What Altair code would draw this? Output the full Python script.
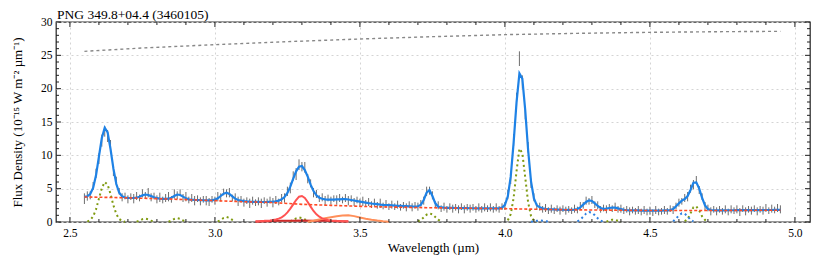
import altair as alt
import numpy as np
import pandas as pd

TITLE = "PNG 349.8+04.4 (3460105)"
X_TITLE = "Wavelength (µm)"
Y_TITLE = "Flux Density (10⁻¹⁵ W m⁻² µm⁻¹)"

x_ticks = [2.5, 3.0, 3.5, 4.0, 4.5, 5.0]
y_ticks = [0, 5, 10, 15, 20, 25, 30]
x_minor = [2.6, 2.7, 2.8, 2.9, 3.1, 3.2, 3.3, 3.4, 3.6, 3.7, 3.8, 3.9,
           4.1, 4.2, 4.3, 4.4, 4.6, 4.7, 4.8, 4.9]
y_minor = [1, 2, 3, 4, 6, 7, 8, 9, 11, 12, 13, 14, 16, 17, 18, 19,
           21, 22, 23, 24, 26, 27, 28, 29]

# wavelength grid of the spectrum (2.55 .. 4.95 um, 0.01 um)
wl = np.round(np.arange(2.55, 4.955, 0.01), 2)

fit_flux = [
    3.78, 3.85, 4.2, 5.1, 7.0, 9.8, 12.6, 14.15, 13.45, 10.95,
    8.0, 5.7, 4.4, 3.85, 3.68, 3.62, 3.6, 3.6, 3.65, 3.8,
    4.0, 4.12, 4.05, 3.88, 3.7, 3.57, 3.5, 3.47, 3.46, 3.5,
    3.65, 3.9, 4.12, 4.05, 3.8, 3.55, 3.4, 3.35, 3.32, 3.3,
    3.28, 3.26, 3.24, 3.23, 3.25, 3.35, 3.55, 3.9, 4.25, 4.4,
    4.2, 3.85, 3.5, 3.3, 3.2, 3.12, 3.08, 3.05, 3.03, 3.02,
    3.01, 3.0, 3.0, 3.01, 3.03, 3.05, 3.1, 3.2, 3.4, 3.75,
    4.35, 5.3, 6.5, 7.6, 8.3, 8.4, 7.8, 6.8, 5.6, 4.65,
    4.0, 3.65, 3.48, 3.4, 3.36, 3.35, 3.36, 3.38, 3.4, 3.42,
    3.42, 3.38, 3.3, 3.22, 3.13, 3.05, 2.97, 2.9, 2.83, 2.77,
    2.72, 2.67, 2.62, 2.58, 2.55, 2.52, 2.49, 2.46, 2.43, 2.41,
    2.39, 2.37, 2.35, 2.33, 2.32, 2.36, 2.57, 3.3, 4.4, 4.8,
    3.9, 2.8, 2.3, 2.18, 2.15, 2.13, 2.12, 2.11, 2.1, 2.09,
    2.08, 2.07, 2.07, 2.06, 2.06, 2.05, 2.05, 2.04, 2.04, 2.03,
    2.03, 2.03, 2.03, 2.04, 2.15, 2.58, 3.85, 6.8, 11.9, 17.9,
    22.3, 21.5, 16.8, 10.8, 6.1, 3.55, 2.5, 2.2, 2.05, 1.97,
    1.92, 1.9, 1.88, 1.86, 1.85, 1.84, 1.83, 1.83, 1.83, 1.85,
    1.95, 2.2, 2.6, 3.0, 3.25, 3.15, 2.8, 2.4, 2.1, 1.98,
    2.0, 2.1, 2.15, 2.15, 2.05, 1.92, 1.83, 1.78, 1.75, 1.74,
    1.73, 1.73, 1.72, 1.72, 1.72, 1.72, 1.72, 1.72, 1.72, 1.72,
    1.73, 1.74, 1.78, 1.95, 2.35, 2.8, 3.2, 3.45, 3.9, 4.8,
    5.9, 5.95, 5.0, 3.6, 2.5, 1.95, 1.8, 1.76, 1.75, 1.75,
    1.75, 1.75, 1.76, 1.76, 1.76, 1.77, 1.77, 1.77, 1.78, 1.78,
    1.78, 1.78, 1.79, 1.79, 1.79, 1.8, 1.8, 1.8, 1.81, 1.81, 1.82,
]

obs_flux = [
    3.5, 3.9, 4.0, 5.4, 7.3, 9.5, 12.2, 13.6, 12.9, 11.5,
    7.6, 6.2, 4.6, 3.7, 3.9, 3.4, 3.8, 3.5, 3.9, 3.6,
    4.3, 4.0, 4.4, 3.7, 3.9, 3.4, 3.7, 3.3, 3.6, 3.8,
    3.4, 4.2, 4.0, 4.4, 3.6, 3.8, 3.3, 3.6, 3.2, 3.5,
    3.1, 3.4, 3.2, 3.0, 3.4, 3.2, 3.8, 3.7, 4.5, 4.3,
    4.4, 3.6, 3.7, 3.1, 3.4, 2.9, 3.2, 2.8, 3.2, 2.9,
    3.1, 2.8, 3.2, 2.9, 3.3, 2.9, 3.3, 3.0, 3.6, 3.6,
    4.6, 5.1, 6.9, 7.2, 8.6, 8.3, 8.2, 6.5, 5.8, 4.4,
    4.2, 3.5, 3.7, 3.2, 3.6, 3.2, 3.5, 3.3, 3.6, 3.3,
    3.6, 3.2, 3.5, 3.0, 3.3, 2.9, 3.1, 2.8, 3.0, 2.6,
    2.9, 2.5, 2.8, 2.4, 2.7, 2.3, 2.6, 2.3, 2.6, 2.2,
    2.5, 2.2, 2.6, 2.2, 2.5, 2.3, 2.8, 3.2, 4.6, 4.7,
    4.0, 2.6, 2.5, 2.0, 2.3, 1.9, 2.3, 2.0, 2.2, 1.9,
    2.3, 1.9, 2.2, 2.0, 2.2, 1.9, 2.2, 1.9, 2.2, 2.0,
    2.2, 1.9, 2.2, 1.9, 2.3, 2.4, 4.1, 6.5, 12.3, 18.4,
    24.5, 21.0, 16.3, 11.2, 5.8, 3.7, 2.3, 2.3, 1.9, 2.1,
    1.7, 2.0, 1.7, 2.0, 1.7, 2.0, 1.7, 1.9, 1.7, 2.0,
    1.8, 2.4, 2.5, 3.2, 3.1, 3.3, 2.6, 2.5, 1.9, 2.1,
    1.9, 2.2, 2.0, 2.3, 1.9, 2.0, 1.7, 1.9, 1.6, 1.8,
    1.6, 1.8, 1.5, 1.8, 1.5, 1.7, 1.4, 1.8, 1.5, 1.6,
    1.8, 1.6, 2.0, 1.8, 2.4, 2.9, 3.1, 3.6, 3.8, 5.0,
    5.6, 6.3, 4.8, 3.8, 2.4, 2.1, 1.6, 1.9, 1.6, 1.9,
    1.6, 1.9, 1.5, 1.9, 1.7, 1.9, 1.5, 2.0, 1.6, 1.9,
    1.7, 2.0, 1.6, 1.9, 1.7, 2.1, 1.7, 2.0, 1.8, 2.1, 1.9,
]

obs_err = [
    0.8, 0.7, 0.6, 0.6, 0.7, 0.8, 0.9, 0.8, 0.9, 0.8,
    0.7, 0.6, 0.5, 0.6, 0.5, 0.6, 0.5, 0.7, 0.6, 0.5,
    0.6, 0.5, 0.7, 0.6, 0.5, 0.6, 0.7, 0.5, 0.6, 0.7,
    0.5, 0.7, 0.6, 0.5, 0.6, 0.7, 0.5, 0.6, 0.7, 0.5,
    0.6, 0.5, 0.7, 0.6, 0.5, 0.6, 0.7, 0.6, 0.5, 0.6,
    0.7, 0.5, 0.6, 0.7, 0.5, 0.6, 0.5, 0.7, 0.6, 0.5,
    0.6, 0.7, 0.5, 0.6, 0.5, 0.7, 0.6, 0.5, 0.6, 0.7,
    0.7, 0.8, 0.7, 0.9, 0.8, 0.7, 0.8, 0.7, 0.6, 0.7,
    0.6, 0.5, 0.6, 0.7, 0.5, 0.6, 0.5, 0.7, 0.6, 0.5,
    0.6, 0.7, 0.5, 0.6, 0.5, 0.6, 0.7, 0.5, 0.6, 0.5,
    0.6, 0.5, 0.7, 0.5, 0.6, 0.5, 0.6, 0.5, 0.6, 0.5,
    0.5, 0.6, 0.5, 0.6, 0.5, 0.6, 0.5, 0.6, 0.7, 0.6,
    0.6, 0.5, 0.6, 0.5, 0.6, 0.5, 0.5, 0.6, 0.5, 0.6,
    0.5, 0.6, 0.5, 0.6, 0.5, 0.5, 0.6, 0.5, 0.6, 0.5,
    0.6, 0.5, 0.6, 0.5, 0.5, 0.6, 0.7, 0.8, 0.9, 1.0,
    1.1, 1.0, 0.9, 0.8, 0.7, 0.6, 0.5, 0.6, 0.5, 0.6,
    0.5, 0.6, 0.5, 0.5, 0.6, 0.5, 0.6, 0.5, 0.5, 0.6,
    0.5, 0.6, 0.5, 0.6, 0.5, 0.6, 0.5, 0.6, 0.5, 0.5,
    0.6, 0.5, 0.5, 0.6, 0.5, 0.6, 0.5, 0.5, 0.6, 0.5,
    0.5, 0.6, 0.5, 0.6, 0.5, 0.6, 0.5, 0.6, 0.5, 0.5,
    0.6, 0.5, 0.5, 0.6, 0.5, 0.6, 0.5, 0.6, 0.7, 0.6,
    0.7, 0.6, 0.6, 0.5, 0.6, 0.5, 0.6, 0.5, 0.6, 0.5,
    0.5, 0.6, 0.5, 0.6, 0.5, 0.6, 0.6, 0.5, 0.6, 0.5,
    0.6, 0.5, 0.6, 0.5, 0.6, 0.6, 0.5, 0.6, 0.5, 0.6, 0.6,
]

# continuum (red dashed)
cont_wl = [2.55, 2.6, 2.7, 2.8, 2.9, 3.0, 3.1, 3.2, 3.3, 3.4, 3.5, 3.6, 3.7,
           3.8, 3.9, 4.0, 4.1, 4.2, 4.3, 4.4, 4.5, 4.6, 4.7, 4.8, 4.9, 4.95]
cont_flux = [3.75, 3.72, 3.62, 3.5, 3.36, 3.2, 3.04, 2.92, 2.65, 2.5, 2.35,
             2.25, 2.17, 2.1, 2.05, 2.0, 1.92, 1.85, 1.8, 1.76, 1.73, 1.72,
             1.72, 1.74, 1.76, 1.77]

# scaled stellar continuum (grey dotted, top)
star_wl = [2.55, 2.75, 3.0, 3.25, 3.5, 3.75, 4.0, 4.25, 4.5, 4.75, 4.95]
star_flux = [25.6, 26.1, 26.6, 27.05, 27.45, 27.8, 28.1, 28.3, 28.45, 28.55, 28.6]

# green dotted line components
g1_wl = [2.56, 2.57, 2.58, 2.59, 2.6, 2.61, 2.62, 2.63, 2.64, 2.65, 2.66, 2.67, 2.68, 2.69]
g1_fx = [0.07, 0.28, 0.82, 1.9, 3.5, 5.1, 6.0, 5.6, 4.2, 2.5, 1.2, 0.45, 0.13, 0.03]
g2_wl = [2.73, 2.74, 2.75, 2.76, 2.77, 2.78, 2.79]
g2_fx = [0.05, 0.2, 0.42, 0.5, 0.4, 0.2, 0.05]
g3_wl = [2.84, 2.85, 2.86, 2.87, 2.88, 2.89, 2.9]
g3_fx = [0.05, 0.2, 0.45, 0.58, 0.48, 0.25, 0.07]
g4_wl = [3.01, 3.02, 3.03, 3.04, 3.05, 3.06, 3.07]
g4_fx = [0.08, 0.3, 0.6, 0.75, 0.62, 0.32, 0.1]
g5_wl = [3.26, 3.27, 3.28, 3.29, 3.3, 3.31, 3.32, 3.33]
g5_fx = [0.1, 0.3, 0.55, 0.68, 0.6, 0.4, 0.18, 0.05]
g6_wl = [3.7, 3.71, 3.72, 3.73, 3.74, 3.75, 3.76, 3.77, 3.78]
g6_fx = [0.1, 0.3, 0.7, 1.1, 1.3, 1.15, 0.75, 0.35, 0.1]
g7_wl = [4.01, 4.02, 4.03, 4.04, 4.05, 4.06, 4.07, 4.08, 4.09, 4.1, 4.11]
g7_fx = [0.25, 1.16, 3.6, 7.6, 11.0, 10.35, 6.7, 2.96, 0.88, 0.18, 0.02]
g8_wl = [4.35, 4.36, 4.37, 4.38, 4.39, 4.4]
g8_fx = [0.05, 0.2, 0.35, 0.33, 0.18, 0.05]
g9_wl = [4.62, 4.63, 4.64, 4.65, 4.66, 4.67, 4.68, 4.69, 4.7]
g9_fx = [0.1, 0.45, 1.3, 2.2, 2.35, 1.7, 0.85, 0.3, 0.08]

# blue dotted line components
b1_wl = [4.09, 4.1, 4.11, 4.12, 4.13, 4.14, 4.15]
b1_fx = [0.03, 0.1, 0.18, 0.22, 0.2, 0.13, 0.05]
b2_wl = [4.25, 4.26, 4.27, 4.28, 4.29, 4.3, 4.31, 4.32, 4.33, 4.34]
b2_fx = [0.1, 0.35, 0.8, 1.25, 1.5, 1.4, 1.0, 0.55, 0.2, 0.05]
b3_wl = [4.58, 4.59, 4.6, 4.61, 4.62, 4.63, 4.64, 4.65]
b3_fx = [0.1, 0.5, 1.0, 1.3, 1.25, 0.85, 0.35, 0.08]

# PAH features
red_wl = [3.14, 3.15, 3.16, 3.17, 3.18, 3.19, 3.2, 3.21, 3.22, 3.23, 3.24,
          3.25, 3.26, 3.27, 3.28, 3.29, 3.3, 3.31, 3.32, 3.33, 3.34, 3.35,
          3.36, 3.37, 3.38, 3.39, 3.4, 3.41, 3.42, 3.43, 3.44, 3.45, 3.46]
red_fx = [0.12, 0.13, 0.15, 0.17, 0.2, 0.24, 0.3, 0.38, 0.5, 0.7, 1.0,
          1.45, 2.0, 2.65, 3.3, 3.8, 3.9, 3.6, 3.0, 2.3, 1.65, 1.15,
          0.8, 0.55, 0.4, 0.3, 0.24, 0.2, 0.17, 0.15, 0.13, 0.12, 0.11]
dred_wl = [3.14, 3.18, 3.22, 3.26, 3.3, 3.34, 3.38, 3.42, 3.46]
dred_fx = [0.05, 0.12, 0.17, 0.2, 0.22, 0.2, 0.17, 0.12, 0.06]
orng_wl = [3.32, 3.34, 3.36, 3.38, 3.4, 3.42, 3.44, 3.46, 3.48, 3.5, 3.52,
           3.54, 3.56, 3.58, 3.6]
orng_fx = [0.05, 0.18, 0.36, 0.55, 0.72, 0.86, 0.96, 1.0, 0.88, 0.68, 0.5,
           0.35, 0.22, 0.12, 0.04]

W, H = 754, 200
FONT = "Liberation Serif"

xscale = alt.Scale(domain=[2.452, 5.052], nice=False, zero=False)
yscale = alt.Scale(domain=[0, 30], nice=False)

xaxis = alt.Axis(values=x_ticks, format=".1f", grid=True, gridDash=[2, 3],
                 gridColor="#d4d4d4", ticks=False, domain=False,
                 labelFont=FONT, labelFontSize=11.5, labelColor="black",
                 labelPadding=5, title=X_TITLE, titleFont=FONT,
                 titleFontSize=13, titleFontWeight="normal",
                 titleColor="black", titlePadding=3)
yaxis = alt.Axis(values=y_ticks, format="d", grid=True, gridDash=[2, 3],
                 gridColor="#d4d4d4", ticks=False, domain=False,
                 labelFont=FONT, labelFontSize=11.5, labelColor="black",
                 labelPadding=4, title=Y_TITLE, titleFont=FONT,
                 titleFontSize=13, titleFontWeight="normal",
                 titleColor="black", titlePadding=16)


def X(field="wl"):
    return alt.X(f"{field}:Q", scale=xscale, axis=xaxis)


def Y(field="flux"):
    return alt.Y(f"{field}:Q", scale=yscale, axis=yaxis)


def comp_df(pairs):
    frames = []
    for i, (w, f) in enumerate(pairs):
        frames.append(pd.DataFrame({"wl": w, "flux": f, "comp": i}))
    return pd.concat(frames, ignore_index=True)


obs = np.array(obs_flux)
err = np.array(obs_err)
df_obs = pd.DataFrame({"wl": wl, "lo": obs - err, "hi": obs + err})
df_fit = pd.DataFrame({"wl": wl, "flux": fit_flux})
df_cont = pd.DataFrame({"wl": cont_wl, "flux": cont_flux})
df_star = pd.DataFrame({"wl": star_wl, "flux": star_flux})
df_green = comp_df([(g1_wl, g1_fx), (g2_wl, g2_fx), (g3_wl, g3_fx),
                    (g4_wl, g4_fx), (g5_wl, g5_fx), (g6_wl, g6_fx),
                    (g7_wl, g7_fx), (g8_wl, g8_fx), (g9_wl, g9_fx)])
df_blue = comp_df([(b1_wl, b1_fx), (b2_wl, b2_fx), (b3_wl, b3_fx)])
df_red = pd.DataFrame({"wl": red_wl, "flux": red_fx})
df_dred = pd.DataFrame({"wl": dred_wl, "flux": dred_fx})
df_orng = pd.DataFrame({"wl": orng_wl, "flux": orng_fx})

star = alt.Chart(df_star).mark_line(color="#888888", strokeWidth=1.4,
                                    strokeDash=[3, 3]).encode(x=X(), y=Y())
bars = alt.Chart(df_obs).mark_rule(color="#555555", strokeWidth=1,
                                   opacity=0.85).encode(x=X(), y=Y("lo"), y2="hi:Q")
green = alt.Chart(df_green).mark_line(color="#7f9a10", strokeWidth=2,
                                      strokeDash=[2, 3]).encode(
    x=X(), y=Y(), detail="comp:N")
blued = alt.Chart(df_blue).mark_line(color="#2f80e0", strokeWidth=2,
                                     strokeDash=[2, 3]).encode(
    x=X(), y=Y(), detail="comp:N")
dred = alt.Chart(df_dred).mark_line(color="#d02a2a", strokeWidth=2).encode(x=X(), y=Y())
orng = alt.Chart(df_orng).mark_line(color="#ff8f5a", strokeWidth=2).encode(x=X(), y=Y())
red = alt.Chart(df_red).mark_line(color="#ff5252", strokeWidth=2).encode(x=X(), y=Y())
fit = alt.Chart(df_fit).mark_line(color="#1e82e6", strokeWidth=2.2).encode(x=X(), y=Y())
cont = alt.Chart(df_cont).mark_line(color="#ff4a24", strokeWidth=1.6,
                                    strokeDash=[3, 2]).encode(x=X(), y=Y())

# inward tick marks on all four sides
df_xmaj = pd.DataFrame({"v": x_ticks})
df_xmin = pd.DataFrame({"v": x_minor})
df_ymaj = pd.DataFrame({"v": y_ticks})
df_ymin = pd.DataFrame({"v": y_minor})
tk = dict(color="#222222", strokeWidth=1)
ticks = [
    alt.Chart(df_xmaj).mark_rule(**tk).encode(x=X("v"), y=alt.value(H), y2=alt.value(H - 5)),
    alt.Chart(df_xmaj).mark_rule(**tk).encode(x=X("v"), y=alt.value(0), y2=alt.value(5)),
    alt.Chart(df_xmin).mark_rule(**tk).encode(x=X("v"), y=alt.value(H), y2=alt.value(H - 3)),
    alt.Chart(df_xmin).mark_rule(**tk).encode(x=X("v"), y=alt.value(0), y2=alt.value(3)),
    alt.Chart(df_ymaj).mark_rule(**tk).encode(y=Y("v"), x=alt.value(0), x2=alt.value(5)),
    alt.Chart(df_ymaj).mark_rule(**tk).encode(y=Y("v"), x=alt.value(W), x2=alt.value(W - 5)),
    alt.Chart(df_ymin).mark_rule(**tk).encode(y=Y("v"), x=alt.value(0), x2=alt.value(3)),
    alt.Chart(df_ymin).mark_rule(**tk).encode(y=Y("v"), x=alt.value(W), x2=alt.value(W - 3)),
]

title = alt.Chart(pd.DataFrame({"t": [TITLE]})).mark_text(
    align="left", baseline="alphabetic", font=FONT, fontSize=13.5, color="black"
).encode(x=alt.value(1), y=alt.value(-3.5), text="t:N")

chart = alt.layer(
    star, bars, green, blued, dred, orng, red, fit, cont, *ticks, title
).properties(
    width=W, height=H,
    autosize=alt.AutoSizeParams(type="none"),
    padding={"left": 48, "top": 14, "right": 12, "bottom": 33},
).configure_view(stroke="#333333", strokeWidth=1.3)

chart.save("out.html", embed_options={"renderer": "svg", "actions": False})
